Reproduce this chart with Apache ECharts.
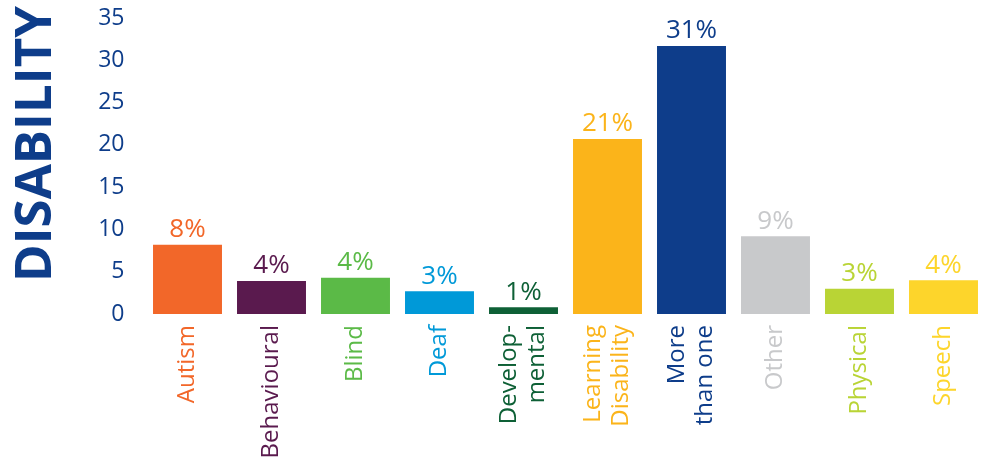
<!DOCTYPE html>
<html>
<head>
<meta charset="utf-8">
<script src="https://cdn.jsdelivr.net/npm/echarts@6/dist/echarts.min.js"></script>
<style>
html,body{margin:0;padding:0;background:#fff;}
#chart{width:989px;height:458px;}
</style>
</head>
<body>
<div id="chart"></div>
<script>
var categories = ['Autism','Behavioural','Blind','Deaf','Develop-\nmental','Learning\nDisability','More\nthan one','Other','Physical','Speech'];
var values = [8.2, 3.9, 4.3, 2.7, 0.8, 20.7, 31.7, 9.2, 3.0, 4.0];
var pctLabels = ['8%','4%','4%','3%','1%','21%','31%','9%','3%','4%'];
var colors = ['#F26729','#5A1A4E','#5BBA47','#0099D8','#0E6036','#FBB41A','#0E3D8A','#C8C9CB','#B9D435','#FDD52B'];
var yTicks = [0,5,10,15,20,25,30,35];

var navy = '#0E3D8A';
var font = '"Open Sans", "Noto Sans", sans-serif';

var chart = echarts.init(document.getElementById('chart'));
chart.setOption({
  backgroundColor: '#fff',
  animation: false,
  grid: { left: 145.5, width: 840, top: 18, bottom: 144, containLabel: false, outerBoundsMode: 'none' },
  graphic: [{
    type: 'text',
    x: 36, y: 144,
    rotation: Math.PI / 2,
    style: {
      text: 'DISABILITY',
      fill: navy,
      font: 'bold 51px ' + font,
      textAlign: 'center',
      textVerticalAlign: 'middle'
    }
  }],
  xAxis: {
    type: 'category',
    data: categories,
    axisLine: { show: false },
    axisTick: { show: false },
    axisLabel: {
      interval: 0,
      rotate: 90,
      margin: 11,
      fontSize: 24,
      lineHeight: 28,
      fontFamily: font,
      color: function (v, i) { return colors[i]; }
    }
  },
  yAxis: {
    type: 'value',
    min: yTicks[0],
    max: yTicks[yTicks.length - 1],
    interval: 5,
    splitLine: { show: false },
    axisLine: { show: false },
    axisTick: { show: false },
    axisLabel: { fontSize: 23, color: navy, fontFamily: font, margin: 21, padding: [6, 0, 0, 0] }
  },
  series: [{
    type: 'bar',
    barCategoryGap: '17.9%',
    data: values.map(function (v, i) {
      return {
        value: v,
        itemStyle: { color: colors[i] },
        label: { color: colors[i] }
      };
    }),
    label: {
      show: true,
      position: 'top',
      distance: 2,
      fontSize: 26,
      fontFamily: font,
      formatter: function (p) { return pctLabels[p.dataIndex]; }
    }
  }]
});
</script>
</body>
</html>
